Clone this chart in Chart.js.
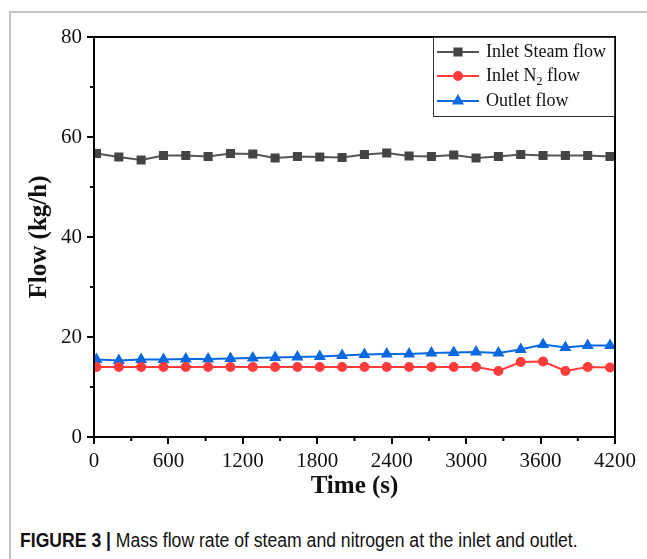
<!DOCTYPE html>
<html>
<head>
<meta charset="utf-8">
<script src="https://cdn.jsdelivr.net/npm/chart.js@4/dist/chart.umd.min.js"></script>
<style>
  html, body { margin: 0; padding: 0; background: #fff; }
  body { width: 647px; height: 559px; position: relative; overflow: hidden; }
  #frame { position: absolute; left: 9px; top: 11px; width: 700px; height: 600px;
           border-left: 2px solid #c4c4c4; border-top: 2px solid #c4c4c4; }
  #grafico { position: absolute; left: 0; top: 0; }
  #legenda-fig { position: absolute; left: 20px; top: 529px; white-space: nowrap;
                 font-family: "Liberation Sans Narrow", "Liberation Sans", sans-serif;
                 font-size: 20px; color: #111; transform: scaleX(0.88); transform-origin: left top; }
  #legenda-fig b { font-weight: bold; }
</style>
</head>
<body>
<div id="frame"></div>
<canvas id="grafico" width="647" height="500"></canvas>
<div id="legenda-fig"><b>FIGURE 3 |</b> Mass flow rate of steam and nitrogen at the inlet and outlet.</div>
<script>
// sample times (s)
const tempos = [20, 200, 380, 560, 740, 920, 1100, 1280, 1460, 1640, 1820, 2000,
                2180, 2360, 2540, 2720, 2900, 3080, 3260, 3440, 3620, 3800, 3980, 4160];

// flows (kg/h)
const vaporEntrada = [56.7, 56.0, 55.4, 56.3, 56.3, 56.1, 56.7, 56.6, 55.8, 56.1, 56.0, 55.9,
                      56.5, 56.8, 56.2, 56.1, 56.4, 55.8, 56.1, 56.5, 56.3, 56.3, 56.3, 56.1];
const n2Entrada = [14.0, 14.0, 14.0, 14.0, 14.0, 14.0, 14.0, 14.0, 14.0, 14.0, 14.0, 14.0,
                   14.0, 14.0, 14.0, 14.0, 14.0, 14.0, 13.2, 15.0, 15.1, 13.2, 14.0, 13.9];
const saida = [15.5, 15.3, 15.5, 15.5, 15.6, 15.6, 15.7, 15.8, 15.9, 16.0, 16.1, 16.3,
               16.5, 16.6, 16.6, 16.8, 16.9, 17.0, 16.8, 17.5, 18.5, 17.9, 18.3, 18.3];

const rotulos = ["Inlet Steam flow", "Inlet N₂ flow", "Outlet flow"];
const ticksX = [0, 4200, 600];   // min, max, step
const ticksY = [0, 80, 20];

const fonteSerif = "'Liberation Serif', 'Times New Roman', serif";

function pontos(valores) {
  return valores.map((v, i) => ({ x: tempos[i], y: v }));
}

// box around the plot, minor ticks and the inset legend
const moldura = {
  id: "moldura",
  afterDatasetsDraw(chart) {
    const { ctx, chartArea: a, scales } = chart;
    ctx.save();
    ctx.strokeStyle = "#000";
    ctx.lineWidth = 2;
    ctx.strokeRect(a.left, a.top, a.right - a.left, a.bottom - a.top);

    // minor ticks
    ctx.lineWidth = 2;
    ctx.beginPath();
    for (let v = ticksX[0] + ticksX[2] / 2; v < ticksX[1]; v += ticksX[2]) {
      const px = scales.x.getPixelForValue(v);
      ctx.moveTo(px, a.bottom);
      ctx.lineTo(px, a.bottom + 4);
    }
    for (let v = ticksY[0] + ticksY[2] / 2; v < ticksY[1]; v += ticksY[2]) {
      const py = scales.y.getPixelForValue(v);
      ctx.moveTo(a.left, py);
      ctx.lineTo(a.left - 4, py);
    }
    ctx.stroke();

    // legend
    const x0 = 433, y0 = a.top, x1 = a.right, y1 = 117;
    ctx.fillStyle = "#fff";
    ctx.fillRect(x0, y0, x1 - x0, y1 - y0);
    ctx.strokeStyle = "#333";
    ctx.lineWidth = 1;
    ctx.strokeRect(x0 + 0.5, y0 + 0.5, x1 - x0 - 1, y1 - y0 - 1);

    const linhas = [52, 76, 101];
    chart.data.datasets.forEach((ds, i) => {
      const y = linhas[i];
      ctx.strokeStyle = ds.borderColor;
      ctx.lineWidth = 2;
      ctx.beginPath();
      ctx.moveTo(437, y);
      ctx.lineTo(479, y);
      ctx.stroke();
      ctx.fillStyle = ds.pointBackgroundColor;
      ctx.strokeStyle = ds.pointBackgroundColor;
      Chart.helpers.drawPoint(ctx, { pointStyle: ds.pointStyle, radius: ds.pointRadius, rotation: 0, borderWidth: 1 }, 458, y);

      ctx.fillStyle = "#111";
      ctx.textBaseline = "middle";
      ctx.textAlign = "left";
      ctx.font = "18px " + fonteSerif;
      const partes = ds.label.split("₂");
      let tx = 486;
      ctx.fillText(partes[0], tx, y);
      if (partes.length > 1) {
        tx += ctx.measureText(partes[0]).width;
        ctx.font = "12px " + fonteSerif;
        ctx.fillText("2", tx, y + 6);
        tx += ctx.measureText("2").width;
        ctx.font = "18px " + fonteSerif;
        ctx.fillText(partes[1], tx, y);
      }
    });
    ctx.restore();
  }
};

new Chart(document.getElementById("grafico"), {
  type: "line",
  data: {
    datasets: [
      {
        label: rotulos[0],
        data: pontos(vaporEntrada),
        borderColor: "#555555",
        backgroundColor: "#444444",
        pointBackgroundColor: "#444444",
        pointBorderColor: "#444444",
        pointStyle: "rect",
        pointRadius: 5,
        borderWidth: 2
      },
      {
        label: rotulos[1],
        data: pontos(n2Entrada),
        borderColor: "#ff3b3b",
        backgroundColor: "#ff3b3b",
        pointBackgroundColor: "#ff3b3b",
        pointBorderColor: "#ff3b3b",
        pointStyle: "circle",
        pointRadius: 4,
        borderWidth: 2
      },
      {
        label: rotulos[2],
        data: pontos(saida),
        borderColor: "#0a68e0",
        backgroundColor: "#0a68e0",
        pointBackgroundColor: "#0a68e0",
        pointBorderColor: "#0a68e0",
        pointStyle: "triangle",
        pointRadius: 5,
        borderWidth: 2
      }
    ]
  },
  options: {
    responsive: false,
    animation: false,
    layout: { padding: { left: 0, top: 37, right: 32, bottom: 0 } },
    plugins: {
      legend: { display: false },
      tooltip: { enabled: false }
    },
    scales: {
      x: {
        type: "linear",
        min: ticksX[0],
        max: ticksX[1],
        afterFit: s => { s.height = 63; },
        border: { display: true, color: "#000", width: 2 },
        grid: { drawOnChartArea: false, color: "#000", tickLength: 7, lineWidth: 2 },
        ticks: { stepSize: ticksX[2], color: "#111", padding: 5, maxRotation: 0,
                 callback: v => String(v),
                 font: { family: fonteSerif, size: 21 } },
        title: { display: true, text: "Time (s)", color: "#111", padding: { top: 0, bottom: 1 },
                 font: { family: fonteSerif, size: 25, weight: "bold", lineHeight: 1 } }
      },
      y: {
        min: ticksY[0],
        max: ticksY[1],
        afterFit: s => { s.width = 94; },
        border: { display: true, color: "#000", width: 2 },
        grid: { drawOnChartArea: false, color: "#000", tickLength: 7, lineWidth: 2 },
        ticks: { stepSize: ticksY[2], color: "#111", padding: 5,
                 font: { family: fonteSerif, size: 21 } },
        title: { display: true, text: "Flow (kg/h)", color: "#111", padding: { top: 27, bottom: 0 },
                 font: { family: fonteSerif, size: 25, weight: "bold", lineHeight: 1 } }
      }
    }
  },
  plugins: [moldura]
});
</script>
</body>
</html>
